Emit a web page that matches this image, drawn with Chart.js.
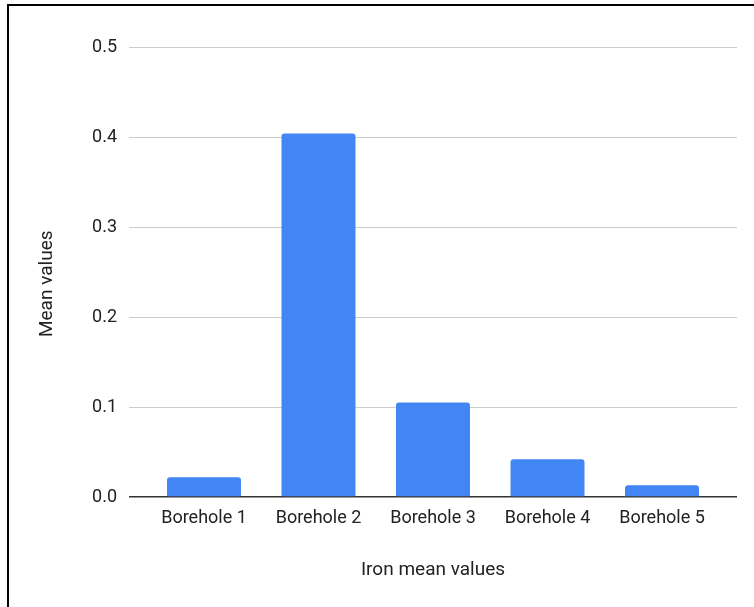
<!DOCTYPE html>
<html>
<head>
<meta charset="utf-8">
<script src="https://cdn.jsdelivr.net/npm/chart.js@4/dist/chart.umd.min.js"></script>
<style>
  html, body { margin: 0; padding: 0; background: #fff; }
  #wrap { position: relative; width: 754px; height: 607px; overflow: hidden; }
  #frame { position: absolute; left: 7px; top: 4px; width: 760px; height: 620px; border-top: 2px solid #000; border-left: 2px solid #000; box-sizing: border-box; pointer-events: none; }
  canvas { position: absolute; left: 0; top: 0; }
</style>
</head>
<body>
<div id="wrap">
  <canvas id="c" width="754" height="607"></canvas>
  <div id="frame"></div>
</div>
<script>
const categories = ['Borehole 1', 'Borehole 2', 'Borehole 3', 'Borehole 4', 'Borehole 5'];
const ironMeans = [0.022, 0.404, 0.105, 0.042, 0.013];
const yTicks = [0, 0.1, 0.2, 0.3, 0.4, 0.5];
const xTitle = 'Iron mean values';
const yTitle = 'Mean values';

const FONT = 'Roboto, "Liberation Sans", Arial, sans-serif';

new Chart(document.getElementById('c'), {
  type: 'bar',
  data: {
    datasets: [{
      data: ironMeans.map((v, i) => ({ x: i, y: v })),
      backgroundColor: '#4285F4',
      borderWidth: 0,
      borderRadius: { topLeft: 3, topRight: 3, bottomLeft: 0, bottomRight: 0 },
      borderSkipped: 'bottom',
      barPercentage: 0.646,
      categoryPercentage: 1
    }]
  },
  options: {
    responsive: false,
    animation: false,
    devicePixelRatio: 1,
    layout: { padding: { top: 47, right: 17, left: 0, bottom: 0 } },
    plugins: { legend: { display: false }, tooltip: { enabled: false } },
    scales: {
      x: {
        type: 'linear',
        offset: false,
        bounds: 'data',
        min: -0.655,
        max: categories.length - 1 + 0.655,
        afterBuildTicks: (s) => { s.ticks = categories.map((_, i) => ({ value: i })); },
        afterFit: (s) => { s.height = 110; },
        grid: { display: false, drawTicks: false },
        border: { display: false },
        ticks: {
          autoSkip: false,
          maxRotation: 0,
          padding: 11,
          color: '#222',
          font: { family: FONT, size: 18 },
          callback: (v) => categories[v] ?? ''
        },
        title: {
          display: true,
          text: xTitle,
          color: '#222',
          font: { family: FONT, size: 19 },
          padding: { top: 0, bottom: 25 }
        }
      },
      y: {
        min: 0,
        max: 0.5,
        afterBuildTicks: (s) => { s.ticks = yTicks.map(v => ({ value: v })); },
        afterFit: (s) => { s.width = 129; },
        grid: {
          drawTicks: false,
          color: (ctx) => (ctx.tick && ctx.tick.value === 0) ? '#333' : '#cccccc',
          lineWidth: (ctx) => (ctx.tick && ctx.tick.value === 0) ? 1.5 : 1
        },
        border: { display: false },
        ticks: {
          padding: 12,
          color: '#222',
          font: { family: FONT, size: 18 },
          callback: (v) => Number(v).toFixed(1)
        },
        title: {
          display: true,
          text: yTitle + '     ',
          color: '#222',
          font: { family: FONT, size: 19 },
          padding: { top: 36, bottom: 0 }
        }
      }
    }
  }
});
</script>
</body>
</html>
